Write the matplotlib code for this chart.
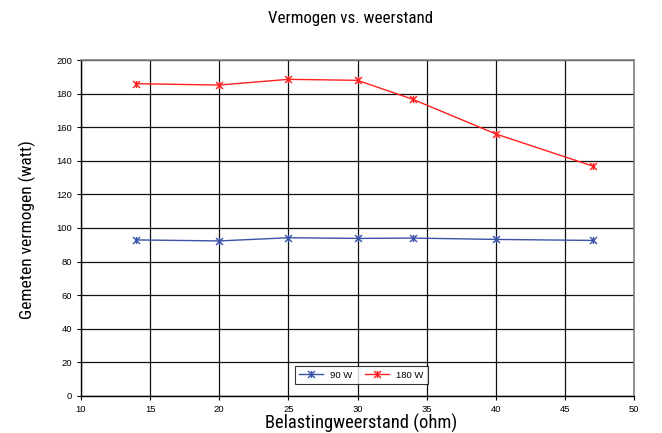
import matplotlib.pyplot as plt
from matplotlib.path import Path

weerstand = [14, 20, 25, 30, 34, 40, 47]
vermogen_90 = [92.9, 92.3, 94.2, 93.8, 94.0, 93.2, 92.6]
vermogen_180 = [185.9, 185.1, 188.5, 187.9, 176.6, 156.0, 136.9]

narrow = ['Roboto Condensed', 'Liberation Sans Narrow', 'Open Sans Condensed', 'Liberation Sans']
plt.rcParams['font.family'] = ['Liberation Sans', 'DejaVu Sans']

# excel-style star marker: x with a vertical stroke
ster = Path([(-1, -1), (1, 1), (-1, 1), (1, -1), (0, -1), (0, 1)],
            [Path.MOVETO, Path.LINETO, Path.MOVETO, Path.LINETO, Path.MOVETO, Path.LINETO])

fig = plt.figure(figsize=(6.62, 4.33), dpi=100)
ax = fig.add_axes([0.1224, 0.0855, 0.8353, 0.7759])

ax.plot(weerstand, vermogen_90, color='#3a52a8', lw=1, marker=ster, ms=5, mew=1, label='90 W')
ax.plot(weerstand, vermogen_180, color='#ff2020', lw=1, marker=ster, ms=5, mew=1, label='180 W')

ax.set_xlim(10, 50)
ax.set_ylim(0, 200)
ax.set_xticks(range(10, 51, 5))
ax.set_yticks(range(0, 201, 20))
ax.tick_params(labelsize=6.8, length=3, width=0.8, color='black')
ax.grid(True, color='#111111', lw=0.9)

for s in ['top', 'right']:
    ax.spines[s].set_color('#808080')
    ax.spines[s].set_linewidth(1.2)
for s in ['left', 'bottom']:
    ax.spines[s].set_color('black')
    ax.spines[s].set_linewidth(1)

fig.text(0.53, 0.958, 'Vermogen vs. weerstand', ha='center', va='center', fontsize=12.2, family=narrow)
fig.text(0.545, 0.022, 'Belastingweerstand (ohm)', ha='center', va='center', fontsize=13.3, family=narrow)
fig.text(0.041, 0.47, 'Gemeten vermogen (watt)', ha='center', va='center', rotation=90, fontsize=12.5, family=narrow)

leg = ax.legend(loc='center', bbox_to_anchor=(0.507, 0.062), ncol=2, fontsize=6.8,
                frameon=True, fancybox=False, edgecolor='black', handlelength=2.5,
                borderpad=0.5, columnspacing=1.3)
leg.get_frame().set_linewidth(0.8)

fig.savefig('out.png', dpi=100)
